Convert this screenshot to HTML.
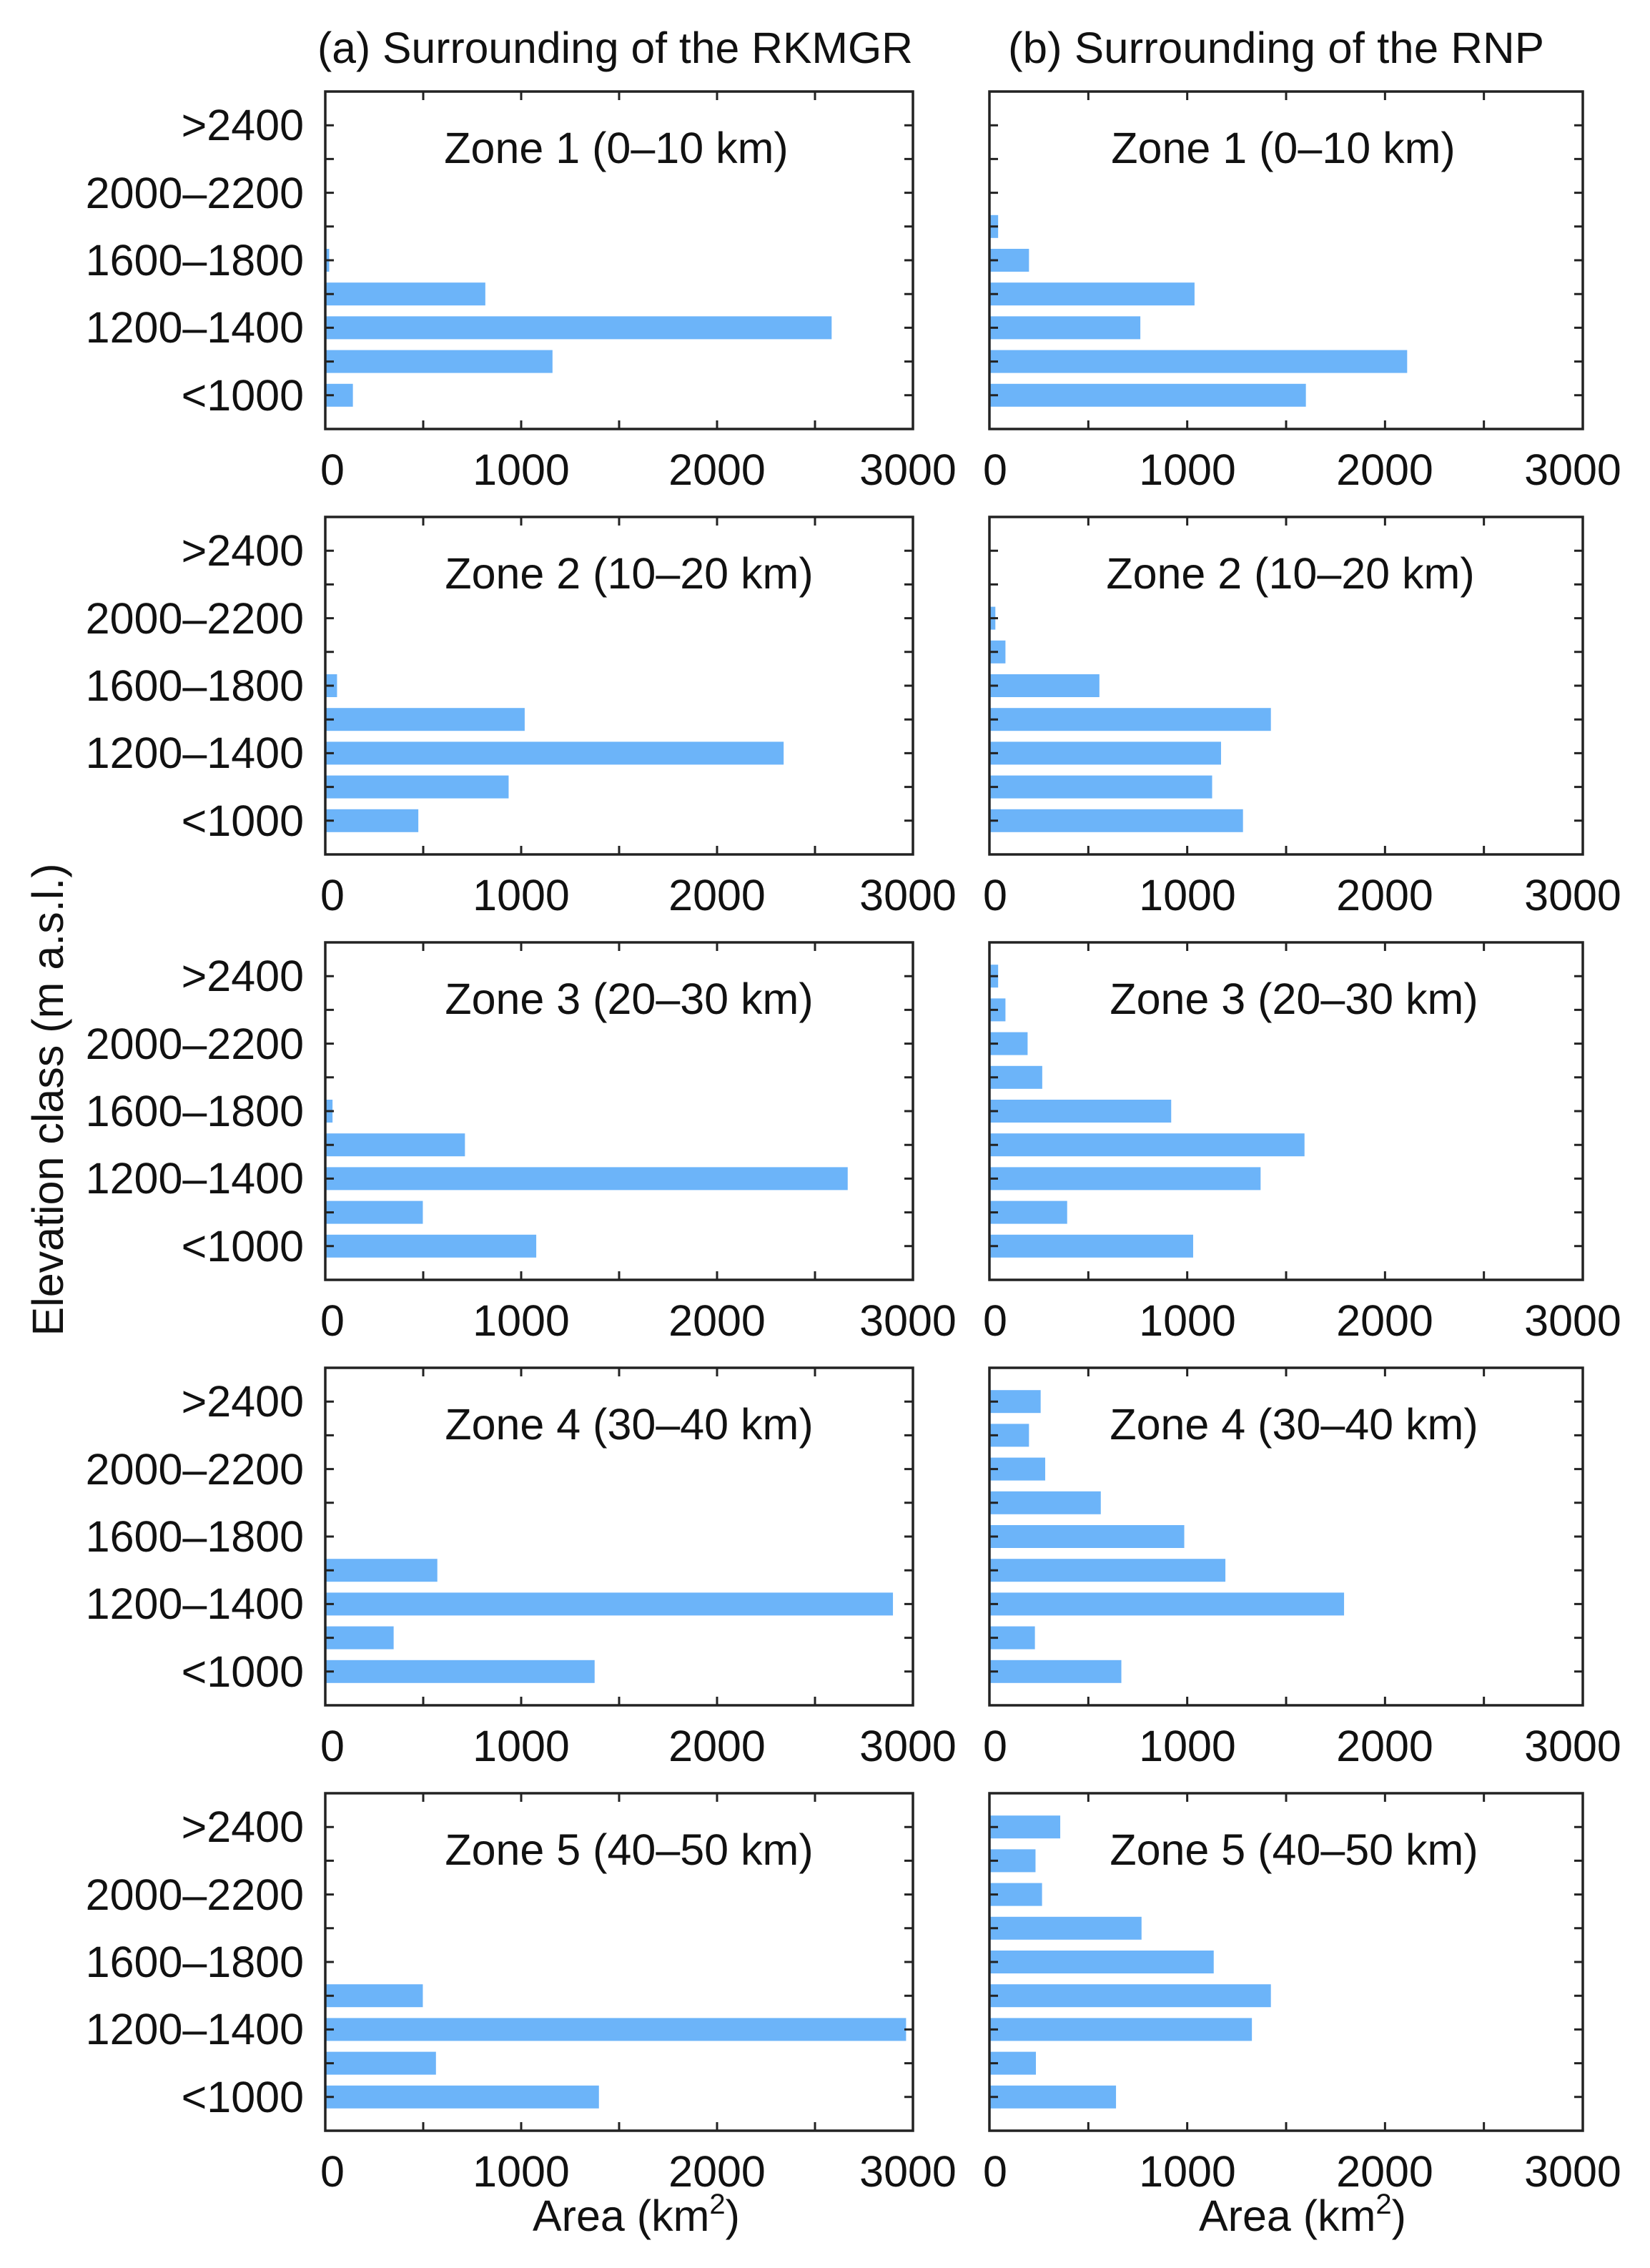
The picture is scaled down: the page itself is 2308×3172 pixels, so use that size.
<!DOCTYPE html>
<html><head><meta charset="utf-8"><style>
html,body{margin:0;padding:0;background:#fff;}
svg{display:block;font-family:"Liberation Sans",Arial,sans-serif;}
.t{font-size:61px;fill:#111;}
</style></head><body>
<svg id="s" width="2308" height="3172" viewBox="0 0 2308 3172" xmlns="http://www.w3.org/2000/svg">
<rect width="2308" height="3172" fill="#fff"/>
<g id="bars"></g>
<text class="t" x="444" y="88" textLength="833" lengthAdjust="spacingAndGlyphs">(a) Surrounding of the RKMGR</text>
<text class="t" x="1410" y="88" textLength="750" lengthAdjust="spacingAndGlyphs">(b) Surrounding of the RNP</text>
<text class="t" transform="translate(88,1538) rotate(-90)" text-anchor="middle">Elevation class (m a.s.l.)</text>
<text class="t" x="890" y="3120" text-anchor="middle">Area (km<tspan font-size="40" dy="-24">2</tspan><tspan dy="24">)</tspan></text>
<text class="t" x="1822" y="3120" text-anchor="middle">Area (km<tspan font-size="40" dy="-24">2</tspan><tspan dy="24">)</tspan></text>

<g transform="translate(0,128)">
<g text-anchor="end" class="t"><text x="425" y="68">&gt;2400</text><text x="425" y="163">2000–2200</text><text x="425" y="257">1600–1800</text><text x="425" y="351">1200–1400</text><text x="425" y="446">&lt;1000</text></g>
<text class="t" x="862" y="100" text-anchor="middle">Zone 1 (0–10 km)</text>
<text class="t" x="1795" y="100" text-anchor="middle">Zone 1 (0–10 km)</text>
<g class="t" text-anchor="middle"><text x="465" y="550">0</text><text x="729" y="550">1000</text><text x="1003" y="550">2000</text><text x="1270" y="550">3000</text><text x="1392" y="550">0</text><text x="1661" y="550">1000</text><text x="1937" y="550">2000</text><text x="2200" y="550">3000</text></g>
</g>
<g transform="translate(0,723)">
<g text-anchor="end" class="t"><text x="425" y="68">&gt;2400</text><text x="425" y="163">2000–2200</text><text x="425" y="257">1600–1800</text><text x="425" y="351">1200–1400</text><text x="425" y="446">&lt;1000</text></g>
<text class="t" x="880" y="100" text-anchor="middle">Zone 2 (10–20 km)</text>
<text class="t" x="1805" y="100" text-anchor="middle">Zone 2 (10–20 km)</text>
<g class="t" text-anchor="middle"><text x="465" y="550">0</text><text x="729" y="550">1000</text><text x="1003" y="550">2000</text><text x="1270" y="550">3000</text><text x="1392" y="550">0</text><text x="1661" y="550">1000</text><text x="1937" y="550">2000</text><text x="2200" y="550">3000</text></g>
</g>
<g transform="translate(0,1318)">
<g text-anchor="end" class="t"><text x="425" y="68">&gt;2400</text><text x="425" y="163">2000–2200</text><text x="425" y="257">1600–1800</text><text x="425" y="351">1200–1400</text><text x="425" y="446">&lt;1000</text></g>
<text class="t" x="880" y="100" text-anchor="middle">Zone 3 (20–30 km)</text>
<text class="t" x="1810" y="100" text-anchor="middle">Zone 3 (20–30 km)</text>
<g class="t" text-anchor="middle"><text x="465" y="550">0</text><text x="729" y="550">1000</text><text x="1003" y="550">2000</text><text x="1270" y="550">3000</text><text x="1392" y="550">0</text><text x="1661" y="550">1000</text><text x="1937" y="550">2000</text><text x="2200" y="550">3000</text></g>
</g>
<g transform="translate(0,1913)">
<g text-anchor="end" class="t"><text x="425" y="68">&gt;2400</text><text x="425" y="163">2000–2200</text><text x="425" y="257">1600–1800</text><text x="425" y="351">1200–1400</text><text x="425" y="446">&lt;1000</text></g>
<text class="t" x="880" y="100" text-anchor="middle">Zone 4 (30–40 km)</text>
<text class="t" x="1810" y="100" text-anchor="middle">Zone 4 (30–40 km)</text>
<g class="t" text-anchor="middle"><text x="465" y="550">0</text><text x="729" y="550">1000</text><text x="1003" y="550">2000</text><text x="1270" y="550">3000</text><text x="1392" y="550">0</text><text x="1661" y="550">1000</text><text x="1937" y="550">2000</text><text x="2200" y="550">3000</text></g>
</g>
<g transform="translate(0,2508)">
<g text-anchor="end" class="t"><text x="425" y="68">&gt;2400</text><text x="425" y="163">2000–2200</text><text x="425" y="257">1600–1800</text><text x="425" y="351">1200–1400</text><text x="425" y="446">&lt;1000</text></g>
<text class="t" x="880" y="100" text-anchor="middle">Zone 5 (40–50 km)</text>
<text class="t" x="1810" y="100" text-anchor="middle">Zone 5 (40–50 km)</text>
<g class="t" text-anchor="middle"><text x="465" y="550">0</text><text x="729" y="550">1000</text><text x="1003" y="550">2000</text><text x="1270" y="550">3000</text><text x="1392" y="550">0</text><text x="1661" y="550">1000</text><text x="1937" y="550">2000</text><text x="2200" y="550">3000</text></g>
</g>
</svg>
<script>
(function(){
var NS="http://www.w3.org/2000/svg",g=document.getElementById("bars");
var T=[128,723,1318,1913,2508],H=472,slot=H/10;
var cols=[[455,1277],[1384,2214]];
var D=[
[[0,0,0,0,20,817,2585,1160,141],[0,0,0,44,200,1037,763,2112,1600]],
[[0,0,0,0,60,1018,2340,936,475],[0,0,30,81,556,1423,1171,1126,1282]],
[[0,0,0,0,37,713,2667,498,1077],[44,81,193,267,919,1593,1371,393,1030]],
[[0,0,0,0,0,572,2898,349,1375],[259,200,282,563,985,1193,1793,230,667]],
[[0,0,0,0,0,498,2965,565,1397],[358,233,266,769,1134,1423,1327,235,640]]];
function el(n,a){var e=document.createElementNS(NS,n);for(var k in a)e.setAttribute(k,a[k]);g.appendChild(e);return e;}
for(var r=0;r<5;r++)for(var c=0;c<2;c++){
 var x0=cols[c][0],x1=cols[c][1],w=x1-x0,t=T[r],b=t+H;
 for(var i=0;i<9;i++){var v=D[r][c][i];if(!v)continue;var cy=t+slot*(i+1);
  el("rect",{x:x0,y:cy-16,width:v/3000*w,height:32,fill:"#6cb4f9"});}
 var p="";
 for(var k=1;k<6;k++){var x=x0+w*k/6;p+="M"+x+" "+t+"v12M"+x+" "+b+"v-12";}
 for(var i=0;i<9;i++){var y=t+slot*(i+1);p+="M"+x0+" "+y+"h12M"+x1+" "+y+"h-12";}
 el("path",{d:p,stroke:"#222","stroke-width":3,fill:"none"});
 el("rect",{x:x0,y:t,width:w,height:H,fill:"none",stroke:"#222","stroke-width":3.5});
}
})();
</script>
</body></html>
